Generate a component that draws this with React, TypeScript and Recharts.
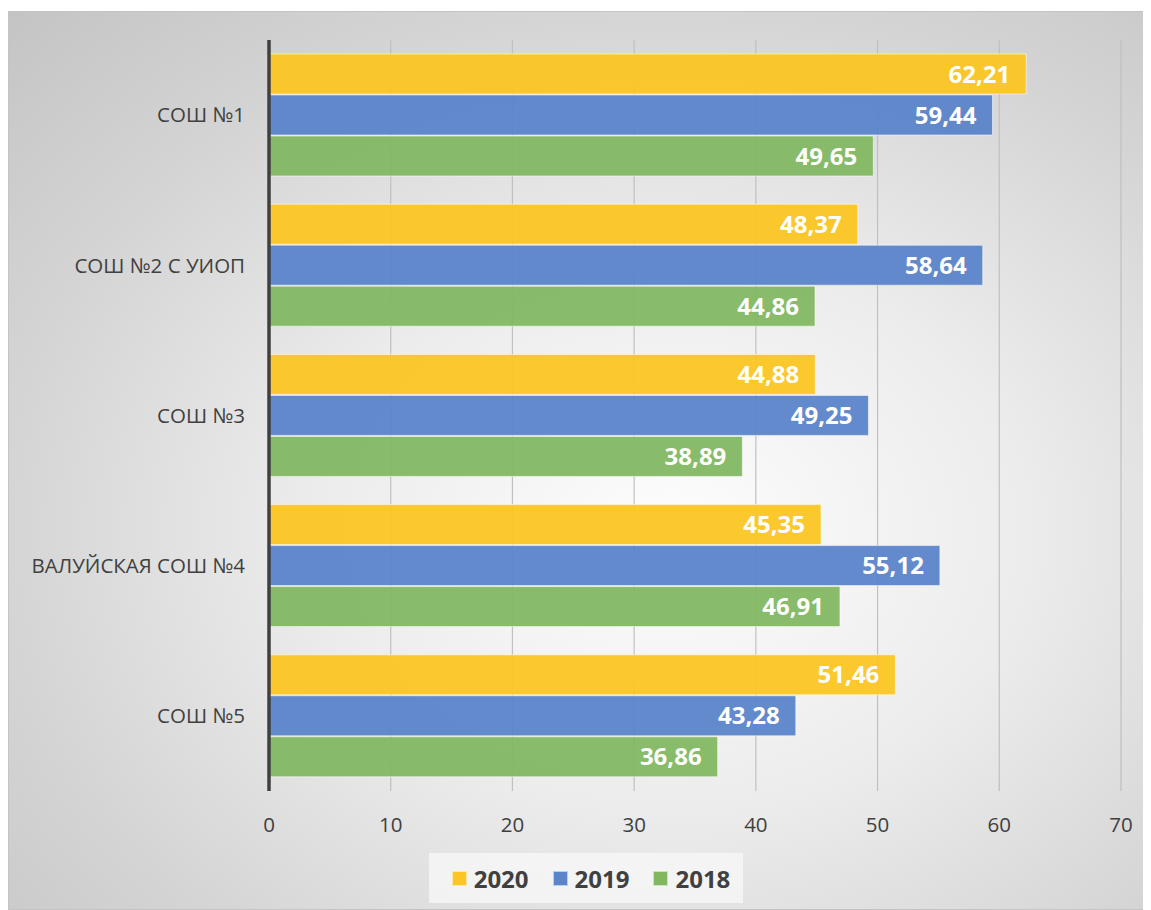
import { BarChart, Bar, XAxis, YAxis, CartesianGrid, Legend, LabelList } from "recharts";

const schools = ["СОШ №1", "СОШ №2 С УИОП", "СОШ №3", "ВАЛУЙСКАЯ СОШ №4", "СОШ №5"];
const y2020 = [62.21, 48.37, 44.88, 45.35, 51.46];
const y2019 = [59.44, 58.64, 49.25, 55.12, 43.28];
const y2018 = [49.65, 44.86, 38.89, 46.91, 36.86];
const xTicks = [0, 10, 20, 30, 40, 50, 60, 70];

const series = [
  { key: "v2020", name: "2020", color: "#FBC523" },
  { key: "v2019", name: "2019", color: "#5B84C9" },
  { key: "v2018", name: "2018", color: "#82B762" },
];

const data = schools.map((s, i) => ({
  school: s,
  v2020: y2020[i],
  v2019: y2019[i],
  v2018: y2018[i],
}));

const font = "'Open Sans', 'DejaVu Sans', sans-serif";

function LegendBox() {
  return (
    <div style={{ display: "flex", justifyContent: "center", paddingLeft: 42, paddingTop: 0 }}>
      <div
        style={{
          display: "flex",
          alignItems: "center",
          gap: 24,
          padding: "0 13px 0 23px",
          height: 50,
          background: "rgba(248,248,248,0.75)",
          fontFamily: font,
          fontWeight: 700,
          fontSize: 24,
          color: "#404040",
        }}
      >
        {series.map((s) => (
          <div key={s.key} style={{ display: "flex", alignItems: "center", gap: 7 }}>
            <span
              style={{
                width: 15,
                height: 15,
                background: s.color,
                border: "1px solid rgba(255,255,255,0.6)",
                boxSizing: "border-box",
                display: "inline-block",
              }}
            />
            <span>{s.name}</span>
          </div>
        ))}
      </div>
    </div>
  );
}

export default function App() {
  return (
    <div
      style={{
        marginTop: 3,
        width: 1143,
        height: 899,
        boxSizing: "border-box",
        border: "1px solid #c4c4c4",
        background:
          "radial-gradient(ellipse farthest-corner at 58% 58%, #fdfdfd 0%, #ececec 38%, #d4d4d4 72%, #c4c4c4 100%)",
      }}
    >
      <BarChart
        width={1141}
        height={897}
        data={data}
        layout="vertical"
        margin={{ top: 28, right: 29, left: 0, bottom: 0 }}
        barSize={40}
        barGap={1}
      >
        <CartesianGrid horizontal={false} stroke="#c0c0c0" strokeWidth={1.2} />
        <XAxis
          type="number"
          domain={[0, 70]}
          ticks={xTicks}
          axisLine={false}
          tickLine={false}
          height={62}
          tick={{ fill: "#404040", fontSize: 20.5, fontFamily: font }}
          tickMargin={20}
        />
        <YAxis
          type="category"
          dataKey="school"
          width={260}
          axisLine={{ stroke: "#404040", strokeWidth: 3.5 }}
          tickLine={false}
          tickMargin={18}
          tick={{ fill: "#404040", fontSize: 20.5, fontFamily: font }}
        />
        <Legend verticalAlign="bottom" height={56} content={() => <LegendBox />} />
        {series.map((s) => (
          <Bar
            key={s.key}
            dataKey={s.key}
            name={s.name}
            fill={s.color}
            fillOpacity={0.95}
            stroke="#ffffff"
            strokeOpacity={0.55}
            strokeWidth={1}
            isAnimationActive={false}
          >
            <LabelList
              dataKey={s.key}
              position="insideRight"
              offset={16}
              formatter={(v: any) => Number(v).toFixed(2).replace(".", ",")}
              style={{ fill: "#ffffff", fontSize: 24, fontWeight: 700, fontFamily: font }}
            />
          </Bar>
        ))}
      </BarChart>
    </div>
  );
}
